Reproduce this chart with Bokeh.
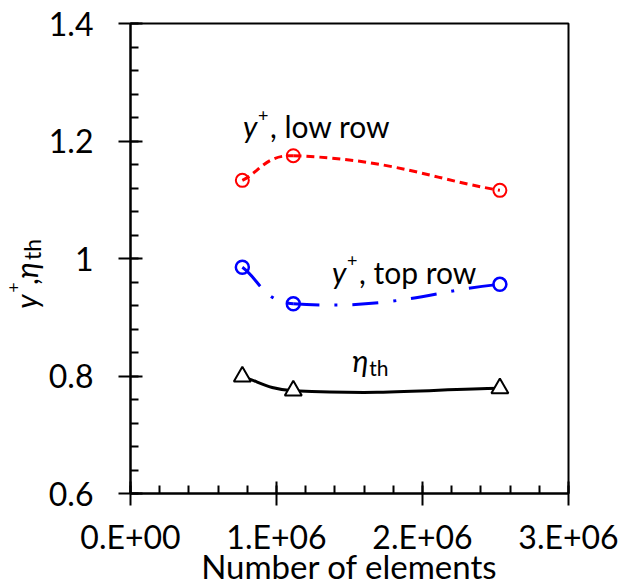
from bokeh.plotting import figure
from bokeh.models import Range1d, FixedTicker, Label
from bokeh.layouts import row
from bokeh.core.properties import value
from bokeh.embed import file_html
from bokeh.resources import INLINE
import math

# ---- data ----
elements = [0.766e6, 1.115e6, 2.53e6]
yplus_low = [1.133, 1.175, 1.116]
yplus_top = [0.985, 0.923, 0.956]
eta_th = [0.799, 0.775, 0.779]

x_ticks = [0, 1e6, 2e6, 3e6]
x_tick_labels = ["0.E+00", "1.E+06", "2.E+06", "3.E+06"]
y_ticks = [0.6, 0.8, 1.0, 1.2, 1.4]
y_tick_labels = ["0.6", "0.8", "1", "1.2", "1.4"]
x_minor = [i * 0.2e6 for i in range(16)]
y_minor = [0.6 + i * 0.04 for i in range(21)]

FONT = "Lato"
FRAME_W, FRAME_H = 438, 470
X_MIN, X_MAX, Y_MIN, Y_MAX = 0, 3e6, 0.6, 1.4
STRIP_W = 44

# ---------------- main plot ----------------
p = figure(frame_width=FRAME_W, frame_height=FRAME_H, title=None,
           output_backend="svg", toolbar_location=None,
           x_range=Range1d(X_MIN, X_MAX), y_range=Range1d(Y_MIN, Y_MAX),
           min_border_left=130 - STRIP_W, min_border_right=67, min_border_top=23,
           min_border_bottom=0)
p.background_fill_color = "white"
p.border_fill_color = "white"
p.outline_line_color = "black"
p.outline_line_width = 2
p.xgrid.visible = False
p.ygrid.visible = False

p.xaxis.ticker = FixedTicker(ticks=x_ticks, minor_ticks=x_minor)
p.yaxis.ticker = FixedTicker(ticks=y_ticks, minor_ticks=y_minor)
p.xaxis.major_label_overrides = {t: l for t, l in zip(x_ticks, x_tick_labels)}
p.yaxis.major_label_overrides = {t: l for t, l in zip(y_ticks, y_tick_labels)}
for ax in (p.xaxis, p.yaxis):
    ax.axis_line_color = "black"
    ax.axis_line_width = 2
    ax.major_tick_line_color = "black"
    ax.major_tick_line_width = 2
    ax.minor_tick_line_color = "black"
    ax.minor_tick_line_width = 2
    ax.major_tick_out = 12
    ax.major_tick_in = 12
    ax.minor_tick_out = 0
    ax.minor_tick_in = 8
    ax.major_label_text_font = FONT
    ax.major_label_text_font_size = "32px"
    ax.major_label_text_color = "black"
p.xaxis.major_label_standoff = 11
p.yaxis.major_label_standoff = 25

p.xaxis.axis_label = "Number of elements"
p.xaxis.axis_label_text_font = FONT
p.xaxis.axis_label_text_font_size = "33px"
p.xaxis.axis_label_text_font_style = "normal"
p.xaxis.axis_label_text_color = "black"
p.xaxis.axis_label_standoff = -13

# screen-pixel scale, used only to shape the smoothed curves
SX = FRAME_W / (X_MAX - X_MIN)
SY = FRAME_H / (Y_MAX - Y_MIN)


def smooth(xs, ys, t=0.5):
    n = len(xs)
    px = [v * SX for v in xs]
    py = [v * SY for v in ys]
    tang = []
    for i in range(n):
        a = max(i - 1, 0)
        b = min(i + 1, n - 1)
        tang.append((px[b] - px[a], py[b] - py[a]))
    out = dict(x0=[], y0=[], x1=[], y1=[], cx0=[], cy0=[], cx1=[], cy1=[])
    for i in range(n - 1):
        d = math.hypot(px[i + 1] - px[i], py[i + 1] - py[i])
        dprev = math.hypot(px[i] - px[i - 1], py[i] - py[i - 1]) if i > 0 else 0
        dnext = math.hypot(px[i + 2] - px[i + 1], py[i + 2] - py[i + 1]) if i + 2 < n else 0
        f0 = t * d / (dprev + d) if i > 0 else 1 / 3
        f1 = t * d / (d + dnext) if i + 2 < n else 1 / 3
        c0x = px[i] + tang[i][0] * f0
        c0y = py[i] + tang[i][1] * f0
        c1x = px[i + 1] - tang[i + 1][0] * f1
        c1y = py[i + 1] - tang[i + 1][1] * f1
        out["x0"].append(xs[i]); out["y0"].append(ys[i])
        out["x1"].append(xs[i + 1]); out["y1"].append(ys[i + 1])
        out["cx0"].append(c0x / SX); out["cy0"].append(c0y / SY)
        out["cx1"].append(c1x / SX); out["cy1"].append(c1y / SY)
    return out


p.bezier(**smooth(elements, yplus_low), line_color="#ff0000", line_width=3, line_dash="8 5")
p.scatter(elements, yplus_low, marker="circle", size=13, line_color="#ff0000", line_width=2,
          fill_color=None)

p.bezier(**smooth(elements, yplus_top), line_color="#0000ff", line_width=3, line_dash="26 15 3 15")
p.scatter(elements, yplus_top, marker="circle", size=13, line_color="#0000ff", line_width=2.5,
          fill_color=None)

p.bezier(**smooth(elements, eta_th), line_color="black", line_width=3)
p.scatter(elements, eta_th, marker="triangle", size=17, line_color="black", line_width=2,
          fill_color="white")

LIFT = 11  # px correction so label baselines sit where the reference has them


def lab(x, y, text, size, style="normal", xo=0, yo=0):
    p.add_layout(Label(x=x, y=y, text=text, x_offset=xo, y_offset=yo + LIFT,
                       text_font=FONT, text_font_size=f"{size}px", text_font_style=style,
                       text_align="left", text_baseline="alphabetic", text_color="black"))


# y+, low row
lab(0.77e6, 1.206, "y", 30, "italic")
lab(0.77e6, 1.206, "+", 18, xo=15, yo=11)
lab(0.77e6, 1.206, ", low row", 30, xo=27)
# y+, top row
lab(1.38e6, 0.959, "y", 30, "italic")
lab(1.38e6, 0.959, "+", 18, xo=15, yo=11)
lab(1.38e6, 0.959, ", top row", 30, xo=27)
# eta_th
lab(1.518e6, 0.809, "η", 30, "italic")
lab(1.518e6, 0.809, "th", 21, xo=17, yo=-8)

# ---------------- y-axis title strip ----------------
H = 588
yt = figure(frame_width=STRIP_W, frame_height=H, title=None,
            output_backend="svg", toolbar_location=None,
            x_range=Range1d(0, STRIP_W), y_range=Range1d(0, H), min_border=0,
            x_axis_type=None, y_axis_type=None)
yt.xgrid.visible = False
yt.ygrid.visible = False
yt.outline_line_color = None
yt.background_fill_color = "white"
yt.border_fill_color = "white"

# pieces placed by their centres (rotated text reads bottom-to-top)
title_parts = ["y", "+", ",", "η", "th"]
title_cx = [25, 13, 26, 25, 31]
title_cy = [H - 278, H - 264, H - 258, H - 247, H - 226]
title_size = ["30px", "18px", "30px", "30px", "23px"]
title_style = ["italic", "normal", "normal", "italic", "normal"]
yt.text(x=title_cx, y=title_cy, text=title_parts, angle=math.pi / 2,
        text_font=value(FONT), text_font_size=title_size, text_font_style=title_style,
        text_align="center", text_baseline="middle", text_color="black")

layout = row(yt, p)
open("out.html", "w").write(file_html(layout, INLINE))
